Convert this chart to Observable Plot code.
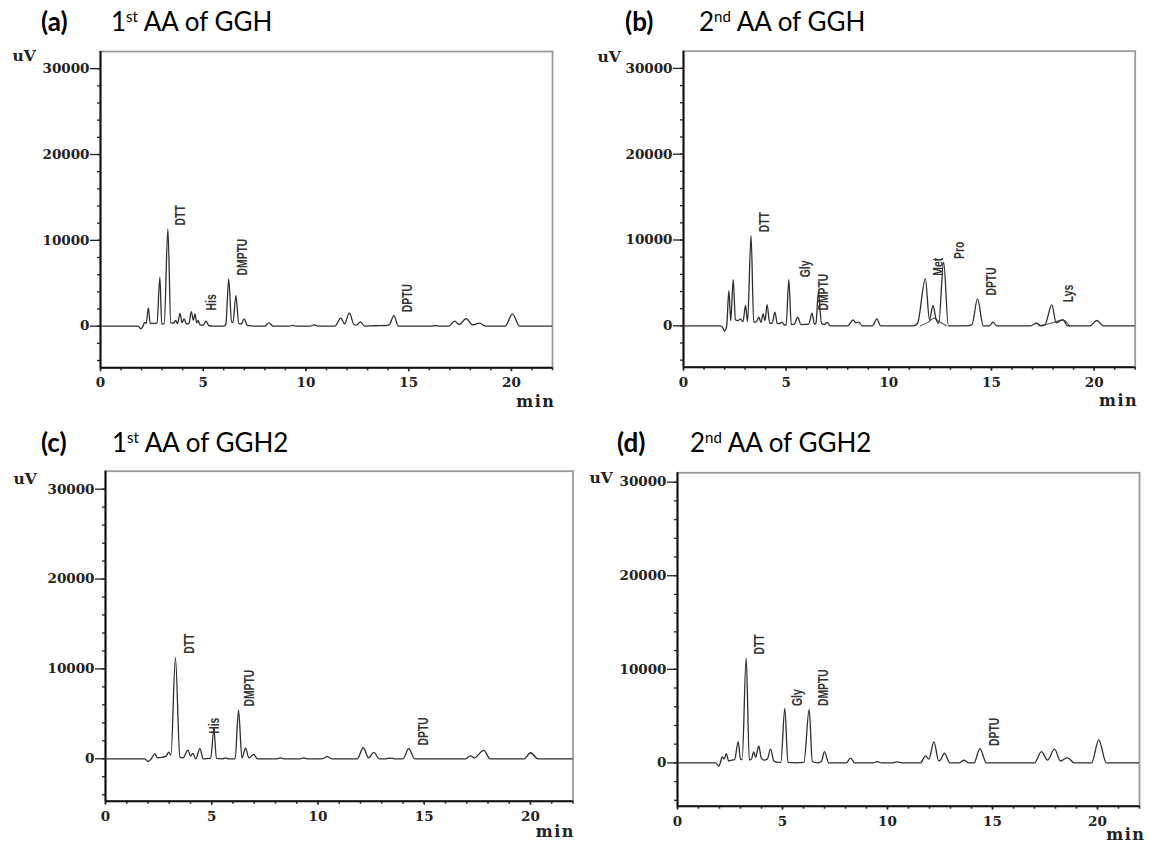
<!DOCTYPE html>
<html>
<head>
<meta charset="utf-8">
<script src="https://cdn.jsdelivr.net/npm/d3@7"></script>
<script src="https://cdn.jsdelivr.net/npm/@observablehq/plot@0.6"></script>
<style>
html, body { margin: 0; padding: 0; background: #fff; width: 1149px; height: 847px; overflow: hidden; }
.tag { position: absolute; font-family: Lato, "Open Sans", sans-serif; font-weight: bold; font-size: 26px; line-height: 26px; color: #000; white-space: nowrap; }
.title { position: absolute; font-family: Lato, "Open Sans", sans-serif; font-size: 26px; line-height: 26px; color: #000; white-space: nowrap; }
.title sup { font-size: 15px; vertical-align: 9px; line-height: 0; }
.panel { position: absolute; }
</style>
</head>
<body>
<div class="tag" style="left:41px; top:8px">(a)</div>
<div class="title" style="left:111px; top:8px">1<sup>st</sup> AA of GGH</div>
<div class="tag" style="left:625px; top:8px">(b)</div>
<div class="title" style="left:699px; top:8px">2<sup>nd</sup> AA of GGH</div>
<div class="tag" style="left:41px; top:428.6px">(c)</div>
<div class="title" style="left:112px; top:428.6px">1<sup>st</sup> AA of GGH2</div>
<div class="tag" style="left:617px; top:428.6px">(d)</div>
<div class="title" style="left:690px; top:428.6px">2<sup>nd</sup> AA of GGH2</div>

<div id="pa" class="panel"></div>
<div id="pb" class="panel"></div>
<div id="pc" class="panel"></div>
<div id="pd" class="panel"></div>

<script>
// ---------- tick values ----------
const xMajorTicks = [0, 5, 10, 15, 20];
const xMinorTicks = [0,1,2,3,4,5,6,7,8,9,10,11,12,13,14,15,16,17,18,19,20,21,22];
const yMajorTicks = [0, 10000, 20000, 30000];
const yMinorTicks = [-4000,-2000,0,2000,4000,6000,8000,10000,12000,14000,16000,18000,20000,22000,24000,26000,28000,30000];

// ---------- (a) 1st AA of GGH : [min, uV] ----------
const traceA = [[0,0],[1.85,0],[1.95,-300],[2.05,-100],[2.15,450],[2.22,300],[2.33,2140],[2.42,300],[2.5,350],[2.6,300],[2.75,400],[2.89,5710],[2.98,250],[3.1,300],[3.28,11340],[3.42,400],[3.55,350],[3.66,660],[3.75,300],[3.87,1500],[3.97,400],[4.07,850],[4.18,250],[4.3,300],[4.42,1700],[4.52,700],[4.6,1440],[4.68,400],[4.75,660],[4.85,150],[5.0,100],[5.14,580],[5.28,50],[5.5,0],[6.0,0],[6.1,200],[6.24,5480],[6.38,500],[6.45,450],[6.59,3570],[6.73,300],[6.85,250],[6.99,850],[7.15,80],[7.5,0],[8.0,0],[8.2,390],[8.4,0],[9.2,0],[9.35,100],[9.5,0],[10.2,0],[10.4,150],[10.6,0],[11.4,0],[11.7,930],[11.88,250],[12.11,1550],[12.35,150],[12.48,150],[12.65,500],[12.85,0],[13.3,50],[13.9,80],[14.05,150],[14.28,1240],[14.5,0],[16.1,0],[16.3,80],[16.5,0],[16.95,0],[17.24,580],[17.45,180],[17.8,890],[18.1,150],[18.45,350],[18.75,0],[19.7,0],[20.05,1440],[20.4,0],[22,0]];
const labelNamesA = ["DTT", "His", "DMPTU", "DPTU"];
const labelTimesA = [3.9, 5.41, 6.91, 14.96];
const labelValuesA = [11740, 1830, 5910, 1630];

// ---------- (b) 2nd AA of GGH ----------
const traceB = [[0,0],[1.8,0],[1.9,-150],[1.99,-620],[2.1,-100],[2.21,4100],[2.3,600],[2.42,5390],[2.53,700],[2.65,600],[2.77,800],[2.9,500],[3.02,2370],[3.12,500],[3.29,10500],[3.42,400],[3.55,500],[3.67,1000],[3.77,400],[3.88,1400],[3.97,600],[4.07,2480],[4.2,300],[4.32,300],[4.45,1590],[4.57,250],[4.7,300],[4.8,430],[4.92,100],[5.0,100],[5.13,5390],[5.25,150],[5.4,200],[5.56,1000],[5.72,150],[6.1,200],[6.26,1470],[6.38,200],[6.45,300],[6.57,3900],[6.72,300],[6.85,150],[7.0,400],[7.15,0],[8.0,0],[8.26,700],[8.4,350],[8.53,430],[8.7,0],[9.2,0],[9.42,800],[9.6,0],[11.2,0],[11.4,300],[11.78,5470],[11.98,700],[12.15,2370],[12.3,800],[12.43,300],[12.67,7410],[12.9,0],[13.8,0],[14.05,150],[14.32,3140],[14.6,0],[14.9,0],[15.07,430],[15.25,0],[16.9,0],[17.2,300],[17.4,0],[17.6,100],[17.94,2450],[18.15,350],[18.3,500],[18.48,700],[18.7,0],[19.8,0],[20.13,620],[20.45,0],[22,0]];
const traceBOverlay1 = [[11.55,0],[11.9,400],[12.2,900],[12.45,500],[12.8,0]];
const traceBOverlay2 = [[17.3,0],[17.9,300],[18.48,700],[18.8,0]];
const labelNamesB = ["DTT", "Gly", "DMPTU", "Met", "Pro", "DPTU", "Lys"];
const labelTimesB = [3.96, 5.94, 6.83, 12.42, 13.45, 14.99, 18.75];
const labelValuesB = [10900, 5660, 1780, 5850, 7800, 3530, 2750];

// ---------- (c) 1st AA of GGH2 ----------
const traceC = [[0,0],[1.85,0],[2.01,-300],[2.15,0],[2.32,550],[2.45,100],[2.65,150],[2.85,300],[2.98,740],[3.08,400],[3.29,11250],[3.5,200],[3.65,100],[3.88,960],[4.0,300],[4.11,590],[4.25,0],[4.44,1120],[4.6,0],[4.95,50],[5.1,3300],[5.22,50],[5.5,0],[5.65,100],[5.8,0],[6.1,0],[6.26,5420],[6.42,100],[6.59,1170],[6.75,100],[6.98,490],[7.15,0],[8.05,0],[8.23,100],[8.4,0],[9.15,0],[9.33,100],[9.5,0],[10.2,0],[10.43,230],[10.65,0],[11.85,0],[12.13,1230],[12.38,100],[12.63,720],[12.88,0],[13.2,0],[13.4,80],[13.6,0],[14.0,0],[14.27,1120],[14.55,0],[16.95,0],[17.18,330],[17.35,100],[17.8,930],[18.1,0],[19.7,0],[20.0,670],[20.35,0],[22,0]];
const labelNamesC = ["DTT", "His", "DMPTU", "DPTU"];
const labelTimesC = [3.97, 5.13, 6.79, 14.95];
const labelValuesC = [11690, 2780, 5820, 1480];

// ---------- (d) 2nd AA of GGH2 ----------
const traceD = [[0,0],[1.82,0],[1.97,-350],[2.05,100],[2.13,640],[2.22,400],[2.32,990],[2.44,200],[2.58,300],[2.72,350],[2.89,2270],[3.0,400],[3.08,350],[3.27,11220],[3.42,300],[3.52,400],[3.63,1170],[3.72,600],[3.87,1810],[3.99,500],[4.11,300],[4.28,400],[4.43,1460],[4.59,200],[4.78,50],[4.92,50],[5.11,5820],[5.26,50],[5.62,0],[6.02,50],[6.27,5720],[6.42,150],[6.68,0],[6.85,150],[7.0,1210],[7.2,0],[8.03,0],[8.24,500],[8.45,0],[9.32,0],[9.51,140],[9.72,0],[10.24,0],[10.46,100],[10.68,0],[11.57,0],[11.81,750],[11.97,400],[12.21,2240],[12.44,200],[12.52,300],[12.71,1030],[12.97,0],[13.42,0],[13.64,280],[13.85,0],[14.12,0],[14.4,1530],[14.71,0],[17.0,0],[17.33,1200],[17.62,300],[17.95,1460],[18.24,200],[18.56,570],[18.9,0],[19.72,0],[20.06,2460],[20.42,0],[22,0]];
const labelNamesD = ["DTT", "Gly", "DMPTU", "DPTU"];
const labelTimesD = [3.92, 5.73, 6.97, 15.1];
const labelValuesD = [11590, 6080, 6080, 1810];

const serif = "'DejaVu Serif', 'Liberation Serif', serif";
const labelFont = "'Liberation Sans', Arial, sans-serif";

function makePanel(cfg) {
  const {trace, overlays, names, times, values, yDomain, box, frame, uv, mn} = cfg;
  const labels = names.map((n, i) => ({name: n, t: times[i], v: values[i]}));
  const plot = Plot.plot({
    width: box.w,
    height: box.h,
    marginLeft: frame.L - box.left,
    marginRight: box.left + box.w - frame.R,
    marginTop: frame.T - box.top,
    marginBottom: box.top + box.h - frame.B,
    x: {domain: [0, 22]},
    y: {domain: yDomain},
    style: {fontFamily: serif, fontSize: "13.5px", fontWeight: "bold", color: "#222", background: "transparent", overflow: "visible"},
    marks: [
      Plot.frame({stroke: "#999", strokeWidth: 1.8}),
      Plot.ruleX([0], {stroke: "#111", strokeWidth: 2}),
      Plot.ruleY([yDomain[0]], {stroke: "#111", strokeWidth: 2}),
      Plot.axisY(yMinorTicks, {anchor: "left", tickSize: 3, tickFormat: () => "", label: null, strokeWidth: 1.3}),
      Plot.axisY(yMajorTicks, {anchor: "left", tickSize: 10, tickPadding: 1, label: null, strokeWidth: 1.3, tickFormat: d => String(d)}),
      Plot.axisX(xMinorTicks, {anchor: "bottom", tickSize: 3, tickFormat: () => "", label: null, strokeWidth: 1.5}),
      Plot.axisX(xMajorTicks, {anchor: "bottom", tickSize: 4, tickPadding: 6, label: null, strokeWidth: 1.5, tickFormat: d => String(d)}),
      ...overlays.map(o => Plot.line(o, {x: d => d[0], y: d => d[1], curve: "monotone-x", stroke: "#555", strokeWidth: 1.1})),
      Plot.line(trace, {x: d => d[0], y: d => d[1], curve: "monotone-x", stroke: "#2e2e2e", strokeWidth: 1.3, clip: true}),
      Plot.text(labels, {x: "t", y: "v", text: "name", rotate: -90, textAnchor: "start", lineAnchor: "middle",
                         fontFamily: labelFont, fontSize: 14, fontWeight: "bold", fill: "#333"}),
      Plot.text(["uV"], {frameAnchor: "top-left", text: d => d, dx: uv[0], dy: uv[1], textAnchor: "start", lineAnchor: "middle", fontSize: 15.5, fill: "#222"}),
      Plot.text(["min"], {frameAnchor: "bottom-right", text: d => d, dx: mn[0], dy: mn[1], textAnchor: "end", lineAnchor: "middle", fontSize: 16, fill: "#222"})
    ]
  });
  const nameSet = new Set(names);
  plot.querySelectorAll("text").forEach(t => {
    if (t.textContent === "min") t.setAttribute("letter-spacing", "1.5px");
    if (nameSet.has(t.textContent) && (t.getAttribute("transform") || "").includes("rotate")) {
      t.setAttribute("transform", t.getAttribute("transform") + " scale(0.74,1)");
    }
  });
  return plot;
}

const panels = [
  {id: "pa", trace: traceA, overlays: [], names: labelNamesA, times: labelTimesA, values: labelValuesA,
   yDomain: [-4850, 32000], box: {left: 0, top: 40, w: 578, h: 375}, frame: {L: 100, R: 552, T: 51, B: 367.3},
   uv: [-88, 5], mn: [3, 34]},
  {id: "pb", trace: traceB, overlays: [traceBOverlay1, traceBOverlay2], names: labelNamesB, times: labelTimesB, values: labelValuesB,
   yDomain: [-4820, 32000], box: {left: 578, top: 40, w: 571, h: 375}, frame: {L: 683, R: 1134.7, T: 50.7, B: 366.7},
   uv: [-86, 6], mn: [3, 34]},
  {id: "pc", trace: traceC, overlays: [], names: labelNamesC, times: labelTimesC, values: labelValuesC,
   yDomain: [-4720, 32000], box: {left: 0, top: 460, w: 578, h: 387}, frame: {L: 105, R: 572.5, T: 470.7, B: 800.7},
   uv: [-92, 8], mn: [2, 31]},
  {id: "pd", trace: traceD, overlays: [], names: labelNamesD, times: labelTimesD, values: labelValuesD,
   yDomain: [-4630, 31000], box: {left: 578, top: 460, w: 571, h: 387}, frame: {L: 677, R: 1139, T: 472.3, B: 805.7},
   uv: [-88, 5], mn: [6, 29]}
];

for (const p of panels) {
  const el = document.getElementById(p.id);
  el.style.left = p.box.left + "px";
  el.style.top = p.box.top + "px";
  el.appendChild(makePanel(p));
}
</script>
</body>
</html>
